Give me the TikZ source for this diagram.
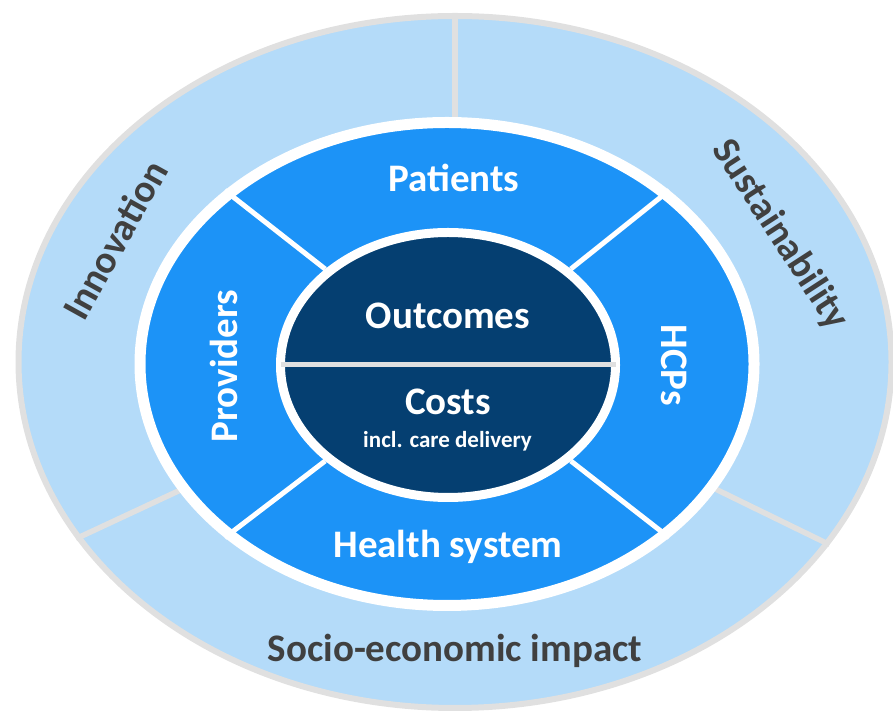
\documentclass[tikz,border=0pt]{standalone}
\usepackage{fontspec}
\setmainfont{Carlito}
\usetikzlibrary{shapes.geometric}
\usepackage{xcolor}
\definecolor{impactBlue}{HTML}{B4DBF9}
\definecolor{ringBlue}{HTML}{1C93F7}
\definecolor{hubNavy}{HTML}{053F71}
\definecolor{rimGrey}{HTML}{E0E0E0}
\definecolor{labelGrey}{HTML}{404040}

\begin{document}
\begin{tikzpicture}[x=1pt,y=1pt]
\tikzstyle{band}=[ellipse,inner sep=0pt]
\tikzstyle{bigtext}=[font=\fontsize{39}{47}\selectfont\bfseries,inner sep=0pt,anchor=base]
\tikzstyle{ringtext}=[bigtext,text=white]
\tikzstyle{impacttext}=[bigtext,text=labelGrey]
\tikzstyle{rimline}=[draw=rimGrey,line width=5.5pt]
\tikzstyle{spoke}=[draw=white,line width=5pt]
\useasboundingbox (0,0) rectangle (893,711);
% outer ring
\node[band,fill=impactBlue,draw=rimGrey,line width=6pt,minimum width=873pt,minimum height=692pt] (impact) at (455,349) {};
\foreach \a in {90,205.4,334.6}{\draw[rimline] (impact.center) -- (impact.\a);}
% middle ring
\node[band,fill=ringBlue,draw=white,line width=11pt,minimum width=614pt,minimum height=483pt] (ring) at (447,347) {};
% centre
\node[band,fill=hubNavy,draw=white,line width=9pt,minimum width=335pt,minimum height=265pt] (hub) at (448,346) {};
\foreach \a in {38,142,218,322}{\draw[spoke] (hub.\a) -- (ring.\a);}
\draw[draw=rimGrey,line width=5pt] ([xshift=4.5pt]hub.west) -- ([xshift=-4.5pt]hub.east);
% labels
\node[ringtext] (outcomes) at (448,382) {Outcomes};
\node[ringtext] (costs) at (448,296) {Costs};
\node[ringtext,font=\fontsize{23}{28}\selectfont\bfseries] (delivery) at (447.5,263) {incl. care delivery};
\node[ringtext] (patients) at (454,519) {Patients};
\node[ringtext] (health) at (448,153) {Health system};
\node[ringtext,rotate=90] (providers) at (237,345) {Providers};
\node[ringtext,rotate=-90] (hcps) at (661,346) {HCPs};
\node[impacttext] (socio) at (455,49) {Socio-economic impact};
\node[impacttext,anchor=center,rotate=61] (innovation) at (115,471) {Innovation};
\node[impacttext,anchor=center,rotate=-57] (sustain) at (780,476) {Sustainability};
\end{tikzpicture}
\end{document}
